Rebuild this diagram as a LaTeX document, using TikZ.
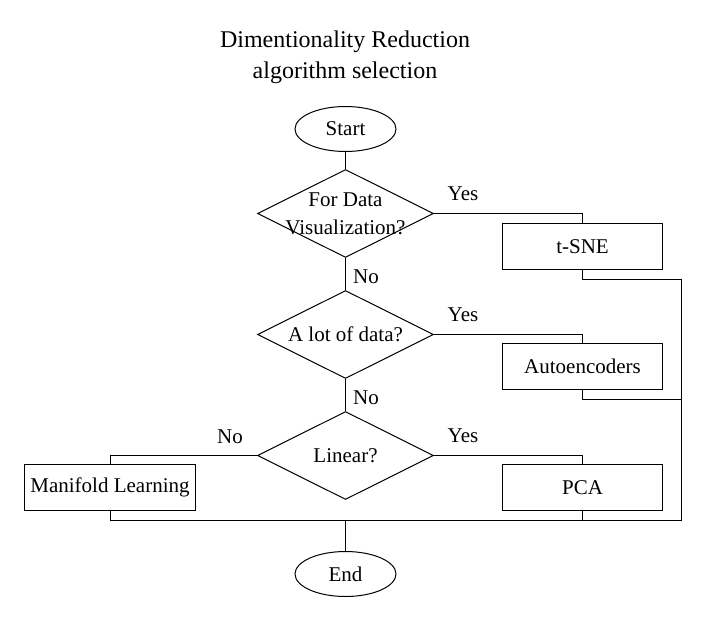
\documentclass[tikz,border=0pt]{standalone}
\usepackage{fontspec}
\setmainfont{Liberation Serif}
\usetikzlibrary{shapes.geometric}
\begin{document}
\begin{tikzpicture}[x=1pt,y=-1pt,
  every node/.style={font=\fontsize{21}{27}\selectfont},
  conn/.style={draw=black,line width=1pt},
  term/.style={ellipse,draw,line width=1pt,inner sep=0pt,minimum width=101pt,minimum height=45pt},
  decision/.style={diamond,draw,line width=1pt,inner sep=0pt,minimum width=176pt,minimum height=88pt},
  inside/.style={align=center,font=\fontsize{21}{28}\selectfont},
  procbox/.style={rectangle,draw,line width=1pt,inner sep=0pt,minimum width=160pt,minimum height=46pt},
  lbl/.style={inner sep=0pt}
]
\useasboundingbox (0,0) rectangle (703,620);
\fill[white] (0,0) rectangle (703,620);

\node[align=center,font=\fontsize{24}{31}\selectfont] (title) at (345,57) {Dimentionality Reduction\\algorithm selection};

\node[term] (start) at (345.5,129) {Start};
\node[decision,label={[inside]center:For Data\\Visualization?}] (d1) at (345.5,213.5) {};
\node[decision,label={[inside]center:A lot of data?}] (d2) at (345.5,334.5) {};
\node[decision,label={[inside]center:Linear?}] (d3) at (345.5,455.5) {};

\node[procbox] (tsne) at (582.5,246.5) {t-SNE};
\node[procbox] (auto) at (582.5,366.5) {Autoencoders};
\node[procbox] (pca) at (582.5,487.5) {PCA};
\node[procbox,minimum width=171pt] (manif) at (110,487.5) {Manifold Learning};

\node[term] (end) at (345.5,574) {End};

\coordinate (corner) at (681.5,520.5);
\coordinate (bus) at (345.5,520.5);

\draw[conn] (start) -- (d1);
\draw[conn] (d1) -- (d2);
\draw[conn] (d2) -- (d3);
\draw[conn] (d1.east) -| (tsne.north);
\draw[conn] (d2.east) -| (auto.north);
\draw[conn] (d3.east) -| (pca.north);
\draw[conn] (d3.west) -| (manif.north);
\draw[conn] (tsne.south) -- ++(0,9) -| (corner);
\draw[conn] (auto.south) -- ++(0,9) -- ++(99,0);
\draw[conn] (pca.south) -- (pca.south |- corner);
\draw[conn] (manif.south) |- (corner);
\draw[conn] (bus) -- (end);

\node[lbl] (y1) at (463,194) {Yes};
\node[lbl] (y2) at (463,315) {Yes};
\node[lbl] (y3) at (463,436) {Yes};
\node[lbl] (n1) at (366,277) {No};
\node[lbl] (n2) at (366,398) {No};
\node[lbl] (n3) at (230,437) {No};
\end{tikzpicture}
\end{document}
